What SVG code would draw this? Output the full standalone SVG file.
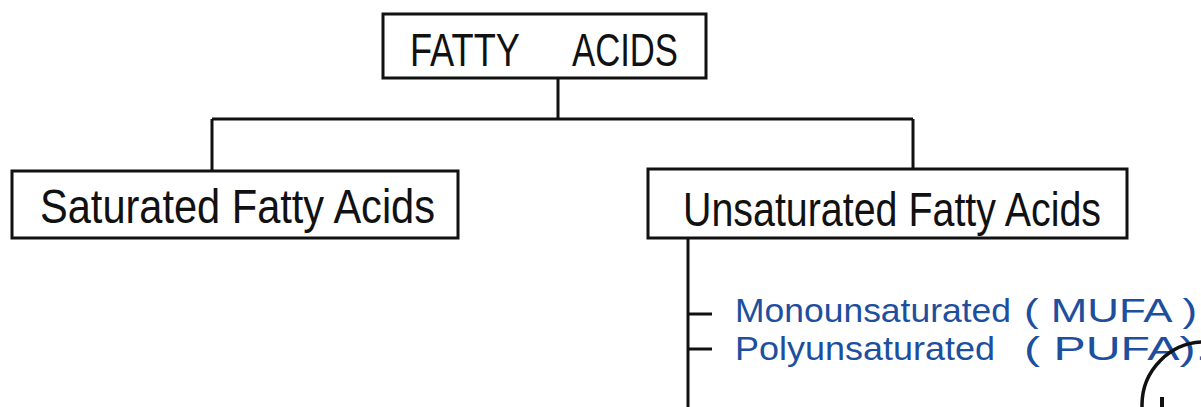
<svg xmlns="http://www.w3.org/2000/svg" width="1201" height="407" viewBox="0 0 1201 407">
<style>
.box{fill:#fff;stroke:#111;stroke-width:3}
.ln{stroke:#111;stroke-width:3;fill:none}
.t{font-family:"Liberation Sans",Arial,sans-serif;fill:#111}
.b{font-family:"Liberation Sans",Arial,sans-serif;fill:#1d4f9e;font-size:33px}
</style>
<rect width="1201" height="407" fill="#fff"/>
<g id="connectors">
<line class="ln" x1="558" y1="78" x2="558" y2="119"/>
<line class="ln" x1="212" y1="119" x2="913" y2="119"/>
<line class="ln" x1="212" y1="119" x2="212" y2="171"/>
<line class="ln" x1="913" y1="119" x2="913" y2="169"/>
<line class="ln" x1="688" y1="238" x2="688" y2="407"/>
<line class="ln" x1="688" y1="314" x2="712" y2="314"/>
<line class="ln" x1="688" y1="349" x2="712" y2="349"/>
</g>
<g id="fatty-acids">
<rect class="box" x="383" y="14" width="323" height="64"/>
<text class="t" x="410" y="66" font-size="46" textLength="110" lengthAdjust="spacingAndGlyphs">FATTY</text>
<text class="t" x="572" y="66" font-size="46" textLength="106" lengthAdjust="spacingAndGlyphs">ACIDS</text>
</g>
<g id="saturated">
<rect class="box" x="12" y="171" width="446" height="67"/>
<text class="t" x="40" y="223" font-size="48" textLength="395" lengthAdjust="spacingAndGlyphs">Saturated Fatty Acids</text>
</g>
<g id="unsaturated">
<rect class="box" x="648" y="169" width="479" height="69"/>
<text class="t" x="683" y="226" font-size="48" textLength="418" lengthAdjust="spacingAndGlyphs">Unsaturated  Fatty  Acids</text>
</g>
<g id="mufa">
<text class="b" x="735" y="322" textLength="276" lengthAdjust="spacingAndGlyphs">Monounsaturated</text>
<text class="b" x="1024" y="322" textLength="173" lengthAdjust="spacingAndGlyphs">( MUFA )</text>
</g>
<g id="pufa">
<text class="b" x="735" y="360" textLength="260" lengthAdjust="spacingAndGlyphs">Polyunsaturated</text>
<text class="b" x="1024" y="360" textLength="185" lengthAdjust="spacingAndGlyphs">( PUFA).</text>
</g>
<g id="circle-mark">
<circle cx="1205" cy="405" r="63" fill="none" stroke="#111" stroke-width="3.5"/>
<line x1="1162" y1="397" x2="1162" y2="407" stroke="#111" stroke-width="4"/>
</g>
</svg>
